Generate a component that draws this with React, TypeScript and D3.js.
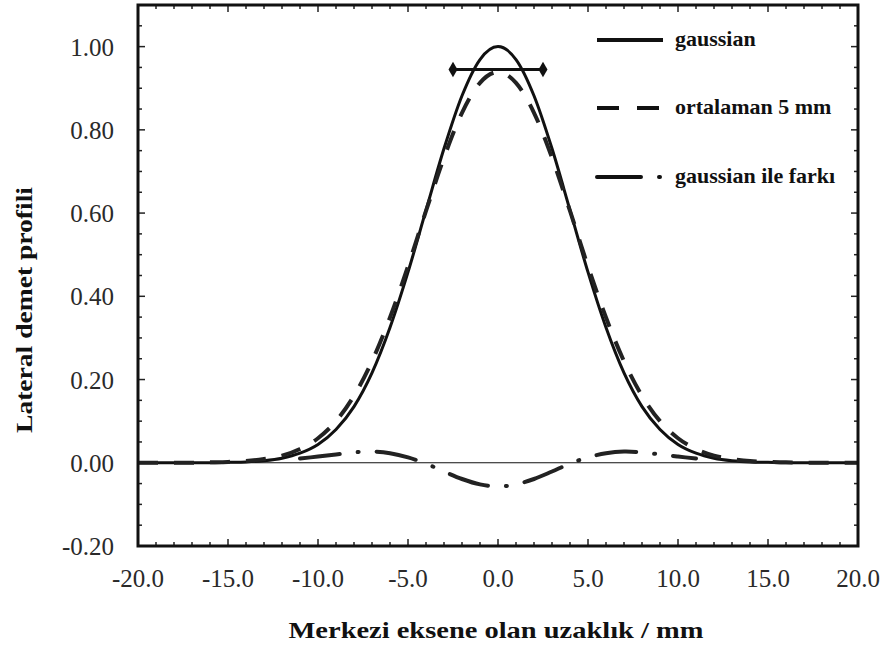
import React, { useEffect, useRef } from "react";
import * as d3 from "d3";

// distance from centre axis (mm)
const xs = [-20, -19, -18, -17, -16, -15, -14, -13, -12, -11, -10, -9, -8, -7, -6, -5, -4, -3, -2, -1, 0, 1, 2, 3, 4, 5, 6, 7, 8, 9, 10, 11, 12, 13, 14, 15, 16, 17, 18, 19, 20];
const gaussian = [0, 0, 0, 0, 0, 0.001, 0.002, 0.005, 0.011, 0.023, 0.044, 0.08, 0.135, 0.216, 0.325, 0.458, 0.607, 0.755, 0.882, 0.969, 1.0, 0.969, 0.882, 0.755, 0.607, 0.458, 0.325, 0.216, 0.135, 0.08, 0.044, 0.023, 0.011, 0.005, 0.002, 0.001, 0, 0, 0, 0, 0];
const averaged = [0, 0, 0, 0, 0.001, 0.002, 0.004, 0.009, 0.017, 0.033, 0.059, 0.1, 0.161, 0.244, 0.349, 0.472, 0.605, 0.733, 0.841, 0.913, 0.939, 0.913, 0.841, 0.733, 0.605, 0.472, 0.349, 0.244, 0.161, 0.1, 0.059, 0.033, 0.017, 0.009, 0.004, 0.002, 0.001, 0, 0, 0, 0];
const diffXs = [-11, -10, -9, -8, -7, -6, -5, -4, -3, -2, -1, 0, 1, 2, 3, 4, 5, 6, 7, 8, 9, 10, 11];
const difference = [0.01, 0.015, 0.02, 0.025, 0.027, 0.023, 0.013, -0.002, -0.021, -0.039, -0.052, -0.057, -0.052, -0.039, -0.021, -0.002, 0.013, 0.023, 0.027, 0.025, 0.02, 0.015, 0.01];

// 5 mm averaging window marker
const windowXs = [-2.5, 2.5];
const windowLevel = 0.945;

const xTicks = [-20, -15, -10, -5, 0, 5, 10, 15, 20];
const yTicks = [-0.2, 0, 0.2, 0.4, 0.6, 0.8, 1.0];

const legendNames = ["gaussian", "ortalaman 5 mm", "gaussian ile farkı"];

export default function App() {
	const svgRef = useRef<SVGSVGElement>(null);

	useEffect(() => {
		if (!svgRef.current) return;
		const svg = d3.select(svgRef.current);
		svg.selectAll("*").remove();

		const left = 138, right = 858, top = 5, bottom = 546;
		const font = "'Liberation Serif', 'Times New Roman', serif";

		const x = d3.scaleLinear().domain([-20, 20]).range([left, right]);
		const y = d3.scaleLinear().domain([-0.2, 1.1]).range([bottom, top]);

		// zero line
		svg.append("line")
			.attr("x1", left).attr("x2", right)
			.attr("y1", y(0)).attr("y2", y(0))
			.attr("stroke", "#111").attr("stroke-width", 1.2);

		const line = d3.line<[number, number]>()
			.x((d) => x(d[0]))
			.y((d) => y(d[1]))
			.curve(d3.curveMonotoneX);

		svg.append("path")
			.datum(xs.map((v, i) => [v, gaussian[i]] as [number, number]))
			.attr("fill", "none").attr("stroke", "#111").attr("stroke-width", 3)
			.attr("d", line);

		svg.append("path")
			.datum(xs.map((v, i) => [v, averaged[i]] as [number, number]))
			.attr("fill", "none").attr("stroke", "#222").attr("stroke-width", 4)
			.attr("stroke-dasharray", "20,16")
			.attr("d", line);

		svg.append("path")
			.datum(diffXs.map((v, i) => [v, difference[i]] as [number, number]))
			.attr("fill", "none").attr("stroke", "#222").attr("stroke-width", 4)
			.attr("stroke-linecap", "round")
			.attr("stroke-dasharray", "40,18,1,18")
			.attr("d", d3.line<[number, number]>().x((d) => x(d[0])).y((d) => y(d[1])).curve(d3.curveCatmullRom));

		// averaging window marker
		svg.append("line")
			.attr("x1", x(windowXs[0])).attr("x2", x(windowXs[1]))
			.attr("y1", y(windowLevel)).attr("y2", y(windowLevel))
			.attr("stroke", "#111").attr("stroke-width", 3);
		svg.selectAll(".diamond")
			.data(windowXs)
			.enter()
			.append("path")
			.attr("d", d3.symbol().type(d3.symbolDiamond).size(70))
			.attr("transform", (d) => `translate(${x(d)},${y(windowLevel)})`)
			.attr("fill", "#111");

		// ticks (inward, all four sides)
		const xMinor = d3.range(-20, 20.01, 1);
		const yMinor = d3.range(-0.2, 1.101, 0.05);
		const tickG = svg.append("g").attr("stroke", "#222").attr("stroke-width", 1.5);
		xMinor.forEach((v) => {
			const len = Math.abs(v % 5) < 0.01 ? 7 : 4;
			tickG.append("line").attr("x1", x(v)).attr("x2", x(v)).attr("y1", bottom).attr("y2", bottom - len);
			tickG.append("line").attr("x1", x(v)).attr("x2", x(v)).attr("y1", top).attr("y2", top + len);
		});
		yMinor.forEach((v) => {
			const major = Math.abs(Math.round(v * 100) % 20) < 1;
			const len = major ? 7 : 4;
			tickG.append("line").attr("x1", left).attr("x2", left + len).attr("y1", y(v)).attr("y2", y(v));
			tickG.append("line").attr("x1", right).attr("x2", right - len).attr("y1", y(v)).attr("y2", y(v));
		});

		// frame
		svg.append("rect")
			.attr("x", left).attr("y", top)
			.attr("width", right - left).attr("height", bottom - top)
			.attr("fill", "none").attr("stroke", "#111").attr("stroke-width", 3);

		// tick labels
		svg.selectAll(".xl")
			.data(xTicks)
			.enter()
			.append("text")
			.attr("x", (d) => x(d))
			.attr("y", 587)
			.attr("text-anchor", "middle")
			.attr("font-family", font)
			.attr("font-size", 25)
			.attr("fill", "#2a2a2a")
			.text((d) => d.toFixed(1));

		svg.selectAll(".yl")
			.data(yTicks)
			.enter()
			.append("text")
			.attr("x", 114)
			.attr("y", (d) => y(d) + 9)
			.attr("text-anchor", "end")
			.attr("font-family", font)
			.attr("font-size", 25)
			.attr("fill", "#2a2a2a")
			.text((d) => d.toFixed(2));

		// axis titles
		svg.append("text")
			.attr("x", 496).attr("y", 638)
			.attr("text-anchor", "middle")
			.attr("font-family", font)
			.attr("font-weight", "bold")
			.attr("font-size", 24)
			.attr("textLength", 415)
			.attr("lengthAdjust", "spacingAndGlyphs")
			.attr("fill", "#111")
			.text("Merkezi eksene olan uzaklık / mm");

		svg.append("text")
			.attr("transform", `translate(32,310) rotate(-90)`)
			.attr("text-anchor", "middle")
			.attr("font-family", font)
			.attr("font-weight", "bold")
			.attr("font-size", 24)
			.attr("textLength", 246)
			.attr("lengthAdjust", "spacingAndGlyphs")
			.attr("fill", "#111")
			.text("Lateral demet profili");

		// legend
		const legendY = [40, 108, 177];
		const dashes = [null, "22,18", "44,18,1,18"];
		legendNames.forEach((name, i) => {
			svg.append("line")
				.attr("x1", 597).attr("x2", 663)
				.attr("y1", legendY[i]).attr("y2", legendY[i])
				.attr("stroke", "#111").attr("stroke-width", 4)
				.attr("stroke-linecap", i === 2 ? "round" : "butt")
				.attr("stroke-dasharray", dashes[i]);
			svg.append("text")
				.attr("x", 675).attr("y", legendY[i] + 6)
				.attr("font-family", font)
				.attr("font-weight", "bold")
				.attr("font-size", 22)
				.attr("fill", "#111")
				.text(name);
		});
	}, []);

	return (
		<svg
			ref={svgRef}
			width={885}
			height={653}
			style={{ position: "absolute", left: 0, top: 0, background: "#fff" }}
		/>
	);
}
